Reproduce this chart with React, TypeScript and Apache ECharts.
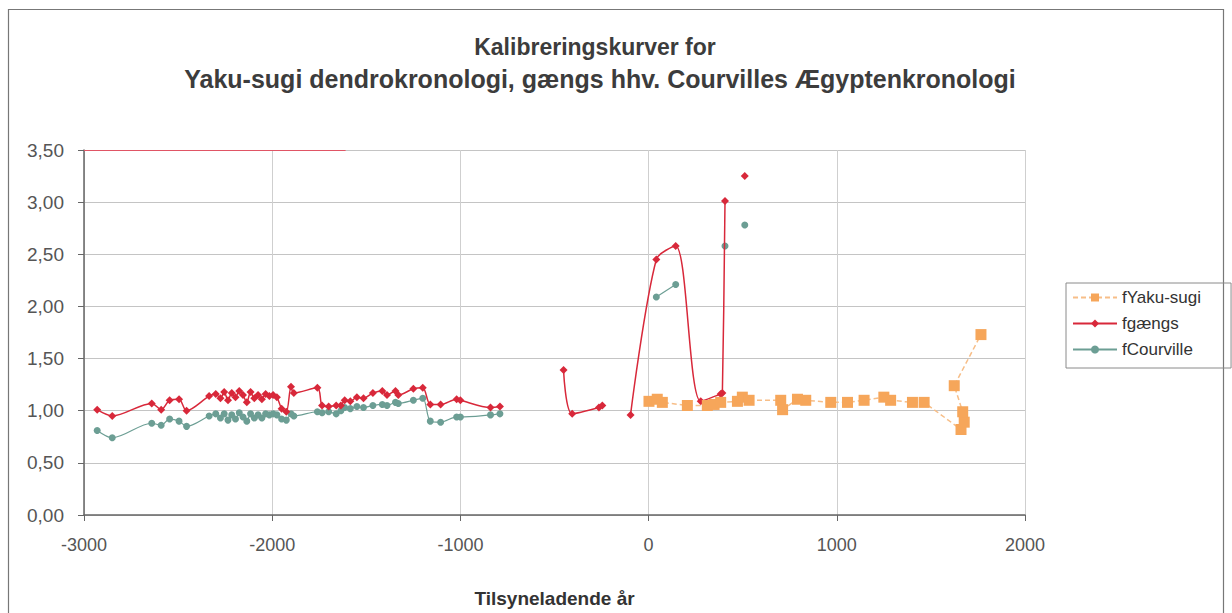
import React, { useEffect, useRef } from "react";
import * as echarts from "echarts";

const titleLines = ["Kalibreringskurver for", "Yaku-sugi dendrokronologi, gængs hhv. Courvilles Ægyptenkronologi"];
const xAxisTitle = "Tilsyneladende år";
const seriesNames = ["fYaku-sugi", "fgængs", "fCourville"];

// fYaku-sugi (in drawing order)
const yakuYears = [2, 46, 73, 206, 312, 348, 383, 472, 498, 534, 702, 712, 791, 835, 968, 1057, 1145, 1250, 1286, 1402, 1464, 1660, 1677, 1669, 1624, 1766];
const yakuValues = [1.09, 1.11, 1.08, 1.05, 1.05, 1.06, 1.08, 1.09, 1.13, 1.10, 1.10, 1.01, 1.11, 1.10, 1.08, 1.08, 1.10, 1.13, 1.10, 1.08, 1.08, 0.82, 0.89, 0.99, 1.24, 1.73];

// fgængs (null = break in the line)
const gaengsYears = [
  -2930, -2850, -2640, -2590, -2545, -2495, -2455, -2335, -2300, -2275, -2255, -2235, -2215, -2195, -2175, -2155,
  -2135, -2115, -2095, -2075, -2055, -2035, -2015, -1995, -1975, -1950, -1925, -1900, -1885, -1760, -1735, -1700,
  -1660, -1635, -1615, -1585, -1550, -1515, -1465, -1415, -1390, -1345, -1330, -1250, -1200, -1160, -1105, -1020,
  -1000, -840, -790, null,
  -452, -406, -264, -246, null,
  -96, 41, 144, 277, 383, 392, 406, null,
  511,
];
const gaengsValues = [
  1.01, 0.95, 1.07, 1.01, 1.10, 1.11, 1.00, 1.14, 1.16, 1.12, 1.18, 1.10, 1.17, 1.13, 1.19, 1.15,
  1.08, 1.18, 1.12, 1.15, 1.11, 1.16, 1.14, 1.15, 1.13, 1.02, 0.99, 1.23, 1.17, 1.22, 1.05, 1.04,
  1.05, 1.05, 1.10, 1.09, 1.13, 1.12, 1.17, 1.19, 1.15, 1.19, 1.15, 1.21, 1.22, 1.06, 1.06, 1.11,
  1.10, 1.03, 1.04, null,
  1.39, 0.97, 1.03, 1.05, null,
  0.96, 2.45, 2.58, 1.09, 1.16, 1.17, 3.01, null,
  3.25,
];

// fCourville (null = break in the line)
const courvilleYears = [
  -2930, -2850, -2640, -2590, -2545, -2495, -2455, -2335, -2300, -2275, -2255, -2235, -2215, -2195, -2175, -2155,
  -2135, -2115, -2095, -2075, -2055, -2035, -2015, -1995, -1975, -1950, -1925, -1900, -1885, -1760, -1735, -1700,
  -1660, -1635, -1615, -1585, -1550, -1515, -1465, -1415, -1390, -1345, -1330, -1250, -1200, -1160, -1105, -1020,
  -1000, -840, -790, null,
  41, 144, null,
  406, null,
  511,
];
const courvilleValues = [
  0.81, 0.74, 0.88, 0.86, 0.92, 0.90, 0.85, 0.95, 0.97, 0.93, 0.97, 0.91, 0.96, 0.92, 0.98, 0.94,
  0.90, 0.97, 0.93, 0.96, 0.93, 0.97, 0.96, 0.97, 0.96, 0.92, 0.91, 0.97, 0.95, 0.99, 0.98, 0.99,
  0.97, 1.00, 1.03, 1.02, 1.04, 1.03, 1.05, 1.06, 1.05, 1.08, 1.07, 1.10, 1.12, 0.90, 0.89, 0.94,
  0.94, 0.96, 0.97, null,
  2.09, 2.21, null,
  2.58, null,
  2.78,
];

const xMin = -3000;
const xMax = 2000;
const xStep = 1000;
const yMin = 0;
const yMax = 3.5;
const yStep = 0.5;

const FONT = "'Liberation Sans', Arial, sans-serif";

function segments(xs: (number | null)[], ys: (number | null)[]): number[][][] {
  const out: number[][][] = [];
  let cur: number[][] = [];
  for (let i = 0; i < xs.length; i++) {
    const x = xs[i];
    const y = ys[i];
    if (x === null || y === null) {
      if (cur.length) out.push(cur);
      cur = [];
    } else {
      cur.push([x, y]);
    }
  }
  if (cur.length) out.push(cur);
  return out;
}

export default function App() {
  const ref = useRef<HTMLDivElement>(null);

  useEffect(() => {
    if (!ref.current) return;
    const chart = echarts.init(ref.current, null, { renderer: "svg" });

    const yakuData = yakuYears.map((x, i) => [x, yakuValues[i]]);
    const gaengsSegs = segments(gaengsYears, gaengsValues);
    const courSegs = segments(courvilleYears, courvilleValues);

    const red = "#D8283A";
    const teal = "#6C9E94";
    const orange = "#F6A65A";

    const series: any[] = [];
    courSegs.forEach((seg) => {
      series.push({
        name: seriesNames[2],
        type: "line",
        data: seg,
        smooth: 0.3,
        symbol: "circle",
        symbolSize: 7,
        itemStyle: { color: teal },
        lineStyle: { color: teal, width: 1.2 },
        z: 2,
      });
    });
    gaengsSegs.forEach((seg, idx) => {
      series.push({
        name: seriesNames[1],
        type: "line",
        data: seg,
        smooth: 0.3,
        symbol: "diamond",
        symbolSize: 8,
        itemStyle: { color: red },
        lineStyle: { color: red, width: 1.5 },
        z: 3,
        markLine:
          idx === 0
            ? {
                silent: true,
                symbol: ["none", "none"],
                label: { show: false },
                lineStyle: { color: "#E05565", width: 1, type: "solid" },
                data: [[{ coord: [xMin, yMax] }, { coord: [-1610, yMax] }]],
              }
            : undefined,
      });
    });
    series.push({
      name: seriesNames[0],
      type: "line",
      data: yakuData,
      smooth: false,
      symbol: "rect",
      symbolSize: 11,
      itemStyle: { color: orange },
      lineStyle: { color: "#F7BE88", width: 1.5, type: [5, 3] },
      z: 4,
    });

    const titleStyle = {
      fontFamily: FONT,
      fontWeight: "bold",
      color: "#3c3c3c",
    };

    chart.setOption({
      animation: false,
      backgroundColor: "#ffffff",
      title: [
        {
          text: titleLines[0],
          left: 590,
          top: 30,
          textAlign: "center",
          textStyle: { ...titleStyle, fontSize: 23 },
        },
        {
          text: titleLines[1],
          left: 595,
          top: 61,
          textAlign: "center",
          textStyle: { ...titleStyle, fontSize: 25 },
        },
      ],
      legend: {
        orient: "vertical",
        left: 1066,
        top: 283,
        data: seriesNames,
        itemWidth: 44,
        itemHeight: 10,
        itemGap: 9,
        padding: [6, 30, 10, 6],
        borderColor: "#8a8a8a",
        borderWidth: 1,
        textStyle: { fontFamily: FONT, fontSize: 17, color: "#333" },
      },
      grid: { left: 84, right: 207, top: 150, bottom: 87, containLabel: false },
      xAxis: {
        type: "value",
        min: xMin,
        max: xMax,
        interval: xStep,
        name: xAxisTitle,
        nameLocation: "middle",
        nameGap: 74,
        nameTextStyle: { fontFamily: FONT, fontSize: 19, fontWeight: "bold", color: "#333" },
        axisLine: { show: true, onZero: false, lineStyle: { color: "#666", width: 1.5 } },
        axisTick: { show: true, length: 6, lineStyle: { color: "#666" } },
        axisLabel: {
          fontFamily: FONT,
          fontSize: 18,
          color: "#555",
          margin: 21,
          formatter: (v: number) => String(v),
        },
        splitLine: { show: true, lineStyle: { color: "#cfcfcf", width: 1 } },
      },
      yAxis: {
        type: "value",
        min: yMin,
        max: yMax,
        interval: yStep,
        axisLine: { show: true, onZero: false, lineStyle: { color: "#666", width: 1.5 } },
        axisTick: { show: true, length: 6, lineStyle: { color: "#666" } },
        axisLabel: {
          fontFamily: FONT,
          fontSize: 19,
          color: "#555",
          margin: 20,
          formatter: (v: number) => v.toFixed(2).replace(".", ","),
        },
        splitLine: { show: true, lineStyle: { color: "#c4c4c4", width: 1 } },
      },
      graphic: [
        {
          type: "rect",
          shape: { x: 8.5, y: 9.5, width: 1215, height: 640 },
          style: { fill: "none", stroke: "#777", lineWidth: 1.2 },
          silent: true,
          z: -10,
        },
      ],
      series,
    });

    return () => chart.dispose();
  }, []);

  return (
    <div
      ref={ref}
      style={{ position: "absolute", left: 0, top: 0, width: 1232, height: 613, background: "#fff" }}
    />
  );
}
